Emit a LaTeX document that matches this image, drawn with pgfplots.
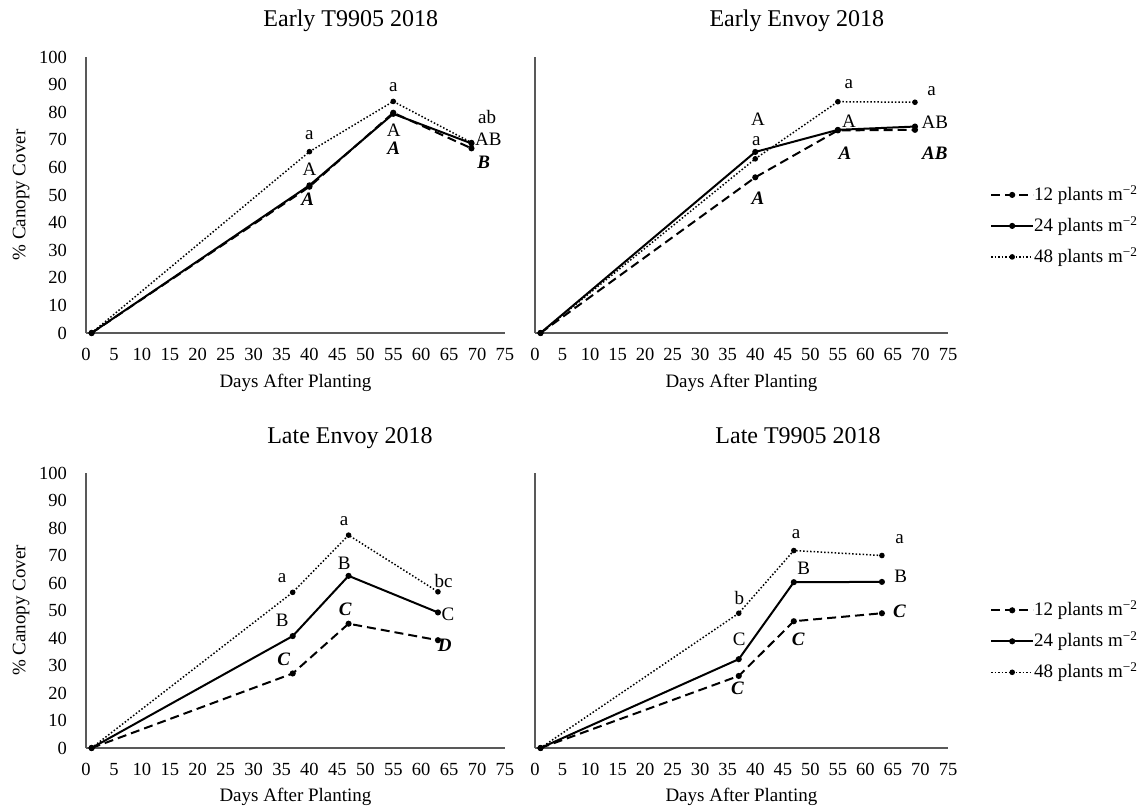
\documentclass[border=0pt]{standalone}
\usepackage{pgfplots}
\pgfplotsset{compat=1.18}
\usepackage{fontspec}
\setmainfont{Liberation Serif}
\newcommand{\tickf}{\fontsize{18.5}{20}\selectfont}
\newcommand{\labf}{\fontsize{19}{21}\selectfont}
\newcommand{\titf}{\fontsize{24}{26}\selectfont}
\newcommand{\bi}[1]{\textbf{\textit{#1}}}
\pgfplotsset{
  panel/.style={
    scale only axis, anchor=south west,
    xmin=0, xmax=75, ymin=0, ymax=100,
    axis x line*=bottom, axis y line*=left,
    axis line style={black!65, line width=1.2pt},
    xtick={0,5,...,75}, ytick={0,10,...,100},
    major tick length=0pt,
    tick label style={font=\tickf},
    /pgf/number format/assume math mode=true,
    xticklabel style={anchor=north, inner sep=0pt, yshift=-15pt},
    yticklabel style={anchor=east, inner sep=0pt, xshift=-19pt},
    xlabel={Days After Planting},
    xlabel style={font=\labf, at={(axis description cs:0.5,-0.196)}, anchor=base},
    title style={font=\titf, anchor=base},
    clip=false,
  },
  leftp/.style={ylabel={\% Canopy Cover},
    ylabel style={font=\labf, at={(axis description cs:-0.155,0.5)}, anchor=center}},
  rightp/.style={yticklabels={},
    legend style={at={(axis description cs:1.1017,0.388)}, anchor=west, draw=none, fill=none,
      inner sep=0pt, font=\labf, row sep=14pt,
      nodes={inner sep=0pt, text height=14pt, text depth=3pt}},
    legend cell align=left,
    /tikz/every even column/.append style={column sep=4pt},
    legend image code/.code={\draw[mark repeat=2,mark phase=2,##1] plot coordinates {(0pt,0pt) (21pt,0pt) (42pt,0pt)};},
  },
  s12/.style={black, line width=2pt, dash pattern=on 9pt off 5pt, mark=*, mark size=2pt, mark options={solid}},
  s24/.style={black, line width=2pt, mark=*, mark size=2pt},
  s48/.style={black, line width=1.5pt, dash pattern=on 1.5pt off 2pt, mark=*, mark size=2pt, mark options={solid}},
}
\begin{document}
\begin{tikzpicture}
\useasboundingbox (0,0) rectangle (1146pt,809pt);

% ---------- Early T9905 2018 ----------
\begin{axis}[panel, leftp, at={(86pt,476pt)}, width=419pt, height=276pt,
  title={Early T9905 2018}, title style={at={(axis description cs:0.632,1.09)}}]
\addplot[s12] coordinates {(1,0) (40,53.0) (55,79.8) (69,66.9)};
\addplot[s24] coordinates {(1,0) (40,53.5) (55,79.4) (69,68.7)};
\addplot[s48] coordinates {(1,0) (40,65.7) (55,83.9) (69,69.0)};
\begin{scope}[every node/.style={font=\labf, inner sep=0pt}]
\node at (axis cs:40,71.7) {a};
\node at (axis cs:40,59.2) {A};
\node at (axis cs:39.7,48.3) {\bi{A}};
\node at (axis cs:55,89.0) {a};
\node at (axis cs:55.1,73.5) {A};
\node at (axis cs:55.1,67.0) {\bi{A}};
\node at (axis cs:71.8,78.1) {ab};
\node at (axis cs:72.0,70.2) {AB};
\node at (axis cs:71.2,62.0) {\bi{B}};
\end{scope}
\end{axis}

% ---------- Early Envoy 2018 ----------
\begin{axis}[panel, rightp, at={(535pt,476pt)}, width=413pt, height=276pt,
  title={Early Envoy 2018}, title style={at={(axis description cs:0.634,1.09)}}]
\addplot[s12] coordinates {(1,0) (40,56.4) (55,73.4) (69,73.6)};
\addlegendentry{12 plants m\textsuperscript{−2}}
\addplot[s24] coordinates {(1,0) (40,65.6) (55,73.6) (69,74.8)};
\addlegendentry{24 plants m\textsuperscript{−2}}
\addplot[s48] coordinates {(1,0) (40,63.1) (55,83.8) (69,83.6)};
\addlegendentry{48 plants m\textsuperscript{−2}}
\begin{scope}[every node/.style={font=\labf, inner sep=0pt}]
\node at (axis cs:40.5,77.6) {A};
\node at (axis cs:40.2,69.6) {a};
\node at (axis cs:40.5,48.9) {\bi{A}};
\node at (axis cs:57.0,90.3) {a};
\node at (axis cs:57.0,76.9) {A};
\node at (axis cs:56.3,65.3) {\bi{A}};
\node at (axis cs:72.0,87.8) {a};
\node at (axis cs:72.6,76.3) {AB};
\node at (axis cs:72.6,65.1) {\bi{AB}};
\end{scope}
\end{axis}

% ---------- Late Envoy 2018 ----------
\begin{axis}[panel, leftp, at={(86pt,61pt)}, width=419pt, height=275pt,
  title={Late Envoy 2018}, title style={at={(axis description cs:0.630,1.087)}}]
\addplot[s12] coordinates {(1,0) (37,27.1) (47,45.2) (63,39.2)};
\addplot[s24] coordinates {(1,0) (37,40.7) (47,62.6) (63,49.3)};
\addplot[s48] coordinates {(1,0) (37,56.6) (47,77.4) (63,56.8)};
\begin{scope}[every node/.style={font=\labf, inner sep=0pt}]
\node at (axis cs:35.1,61.8) {a};
\node at (axis cs:35.1,46.4) {B};
\node at (axis cs:35.4,32.4) {\bi{C}};
\node at (axis cs:46.2,82.6) {a};
\node at (axis cs:46.2,67.2) {B};
\node at (axis cs:46.4,50.3) {\bi{C}};
\node at (axis cs:64.0,60.6) {bc};
\node at (axis cs:64.8,48.5) {C};
\node at (axis cs:64.2,37.3) {\bi{D}};
\end{scope}
\end{axis}

% ---------- Late T9905 2018 ----------
\begin{axis}[panel, rightp, at={(535pt,61pt)}, width=413pt, height=275pt,
  title={Late T9905 2018}, title style={at={(axis description cs:0.637,1.087)}}]
\addplot[s12] coordinates {(1,0) (37,26.2) (47,46.1) (63,49.0)};
\addlegendentry{12 plants m\textsuperscript{−2}}
\addplot[s24] coordinates {(1,0) (37,32.3) (47,60.3) (63,60.4)};
\addlegendentry{24 plants m\textsuperscript{−2}}
\addplot[s48] coordinates {(1,0) (37,49.0) (47,71.8) (63,70.0)};
\addlegendentry{48 plants m\textsuperscript{−2}}
\begin{scope}[every node/.style={font=\labf, inner sep=0pt}]
\node at (axis cs:37.1,54.5) {b};
\node at (axis cs:37.1,39.7) {C};
\node at (axis cs:36.8,21.8) {\bi{C}};
\node at (axis cs:47.4,77.6) {a};
\node at (axis cs:48.8,65.5) {B};
\node at (axis cs:47.8,39.6) {\bi{C}};
\node at (axis cs:66.2,76.1) {a};
\node at (axis cs:66.4,62.6) {B};
\node at (axis cs:66.2,49.7) {\bi{C}};
\end{scope}
\end{axis}
\end{tikzpicture}
\end{document}
